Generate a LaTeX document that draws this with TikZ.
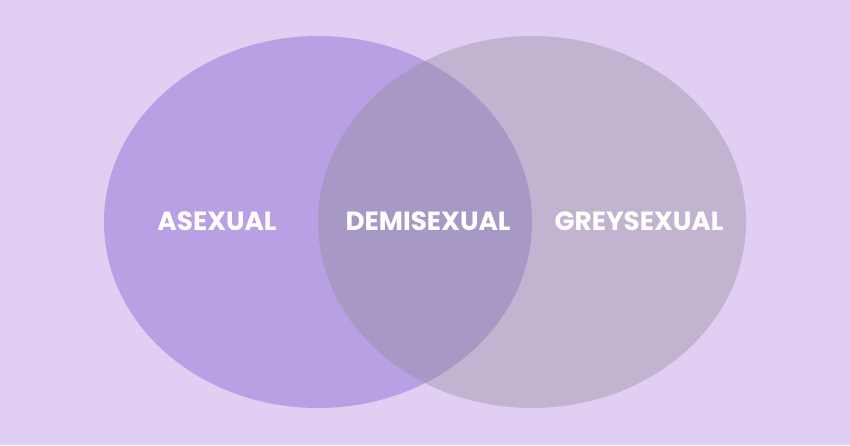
\documentclass[tikz,border=0pt]{standalone}
\usepackage{fontspec}
\setmainfont{Poppins}
\definecolor{bgc}{HTML}{E0CFF2}
\definecolor{leftc}{HTML}{B8A0E4}
\definecolor{rightc}{HTML}{C2B3D0}
\definecolor{midc}{HTML}{A898C6}
\tikzset{lbl/.style={text=white,font=\fontsize{26.3}{30}\selectfont\bfseries,inner sep=0pt}}
\begin{document}
\begin{tikzpicture}[x=1pt,y=1pt]
\fill[bgc] (0,0) rectangle (850,445);
\useasboundingbox (0,0) rectangle (850,445);
\fill[leftc] (318,223) ellipse [x radius=214,y radius=186];
\fill[rightc] (532,223) ellipse [x radius=214,y radius=186];
\begin{scope}
\clip (318,223) ellipse [x radius=214,y radius=186];
\fill[midc] (532,223) ellipse [x radius=214,y radius=186];
\end{scope}
\node[lbl] (a) at (217,224) {ASEXUAL};
\node[lbl] (d) at (428,224) {DEMISEXUAL};
\node[lbl] (g) at (639,224) {GREYSEXUAL};
\end{tikzpicture}
\end{document}
